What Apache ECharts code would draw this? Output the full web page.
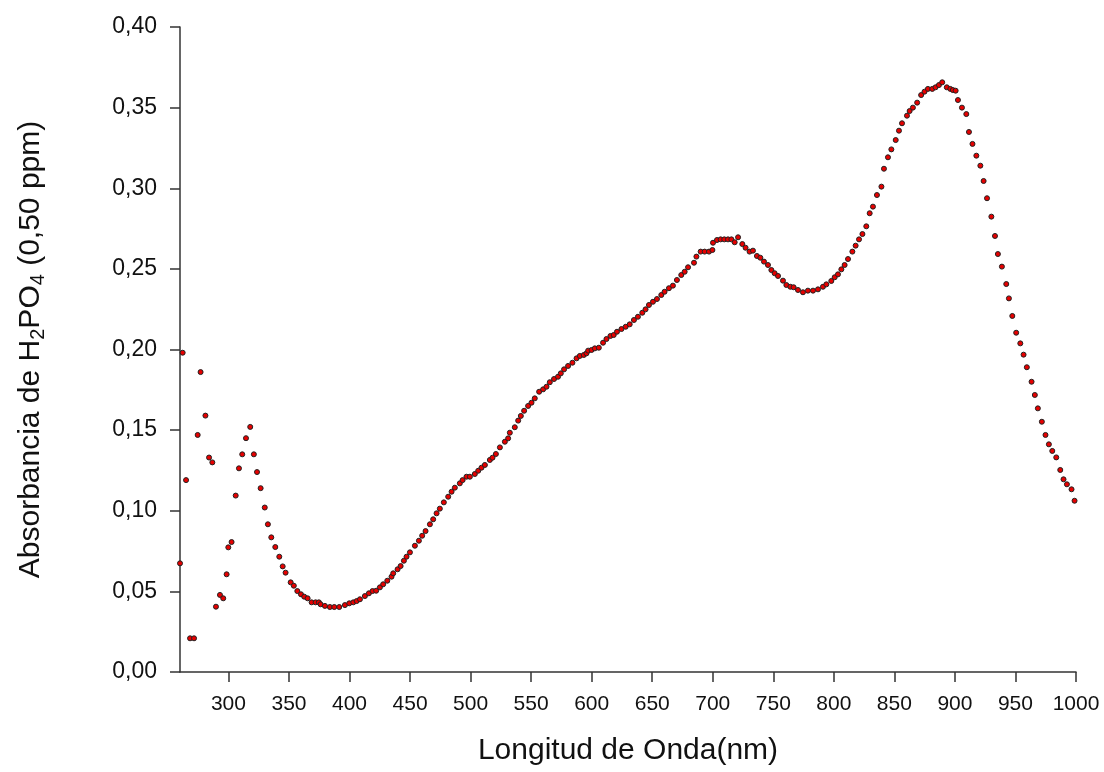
<!DOCTYPE html>
<html>
<head>
<meta charset="utf-8">
<script src="https://cdn.jsdelivr.net/npm/echarts@6/dist/echarts.min.js"></script>
<style>
html,body{margin:0;padding:0;background:#fff;}
#chart{width:1104px;height:772px;}
</style>
</head>
<body>
<div id="chart"></div>
<script>
var wavelength = [
260,262.2,265,268.3,271.6,274.6,277,281,284,286.7,289.7,293,295.7,298.5,299.9,302.6,306,308.7,311.4,314.5,
318,321,323.6,326.6,330,332.6,335.4,338.7,342,344.8,347.2,351.4,354,356.9,359.9,362.6,365.4,368.7,372,374.7,
376.1,379.7,383.8,387.4,391.5,396.2,399.8,403.1,405.9,408.6,412.7,416,419,422,425.1,427.8,431.2,434.7,436.1,439.7,
442.2,444.9,447.1,449.9,454,457.3,460,462.8,466.4,469.1,471.9,474.6,477.9,481.5,484.3,487,491.1,493.4,496.6,499.4,
503.5,506.3,509,511.8,515.9,518.1,520.9,524.2,528.3,531,532.4,536.5,539.3,541.5,544.2,547.5,550.3,553,556.6,559.9,
562.7,565.4,568.9,572.2,574.5,577.2,580.5,584.1,587.5,590.2,593.5,595.7,597.1,599.9,602.6,605.9,609.4,612.2,615.5,618.2,
620.9,624.6,628.1,631.4,634.9,638.2,641.8,644.5,647.3,650.6,653.9,657.5,660.2,663.8,667.1,670.4,674,676.8,679.6,684.5,
686.5,690,693.3,696.9,699.7,700.2,703.5,706.5,709.5,712.6,715.4,718.1,720.9,724.4,727.1,730.4,733.2,736.5,739.3,742.3,
745.6,748.4,751.1,753.9,758,760.8,764.1,766.8,770.4,774.5,778.6,782.8,786.9,791,793.8,797.9,800.7,803.4,806.2,808.9,
811.7,815.3,818,820.8,823.6,826.8,829.6,832.3,835.6,839.3,841.4,844.7,847.5,851.1,853.8,856.3,860.4,862.6,865.3,868.8,
872.1,874.9,877.7,881.3,884,886.8,889.5,893.3,896.2,898.3,900.6,902.5,905.8,909.4,911.6,914.5,917.7,921,923.7,926.5,
930.1,933.1,935.5,938.8,942.4,944.6,947.4,950.6,954,956.7,959.4,963.3,966,968.5,971.8,974.8,977.6,980.4,983.7,987,
989.7,992.5,996.3,998.8
];
var absorbance = [
0.0674,0.198,0.119,0.0209,0.0209,0.147,0.186,0.159,0.133,0.130,0.0405,0.0478,0.0457,0.0606,0.0773,0.0806,0.1094,0.1263,0.135,0.145,
0.152,0.135,0.124,0.114,0.102,0.0916,0.0835,0.0775,0.0715,0.0655,0.0616,0.0556,0.0535,0.0502,0.0482,0.0467,0.0457,0.0432,0.0432,0.0432,
0.042,0.041,0.0403,0.0403,0.0403,0.0415,0.0426,0.0432,0.044,0.0451,0.0471,0.0488,0.0502,0.0504,0.0525,0.0544,0.0566,0.0591,0.0612,0.0637,
0.0657,0.069,0.0715,0.0742,0.0783,0.0814,0.0845,0.0874,0.0916,0.0947,0.0984,0.1013,0.1052,0.1087,0.1118,0.1143,0.117,0.119,0.1211,0.1211,
0.1228,0.1248,0.1267,0.1284,0.1315,0.1329,0.1352,0.1393,0.1428,0.1449,0.1484,0.1518,0.1559,0.1588,0.162,0.165,0.167,0.1697,0.1738,0.1753,
0.1769,0.1797,0.1817,0.1831,0.1852,0.1877,0.1898,0.1918,0.1945,0.196,0.1966,0.1976,0.1993,0.1997,0.2007,0.2011,0.2042,0.2065,0.2084,0.209,
0.211,0.2127,0.2141,0.2156,0.2183,0.2203,0.2228,0.2249,0.2276,0.2296,0.2313,0.2338,0.2358,0.238,0.2396,0.2431,0.2462,0.2482,0.251,0.2538,
0.2576,0.2607,0.2607,0.2607,0.2617,0.2662,0.2679,0.2683,0.2683,0.2683,0.2683,0.2665,0.2696,0.2654,0.2631,0.2607,0.2613,0.258,0.2569,0.2545,
0.2524,0.2493,0.2473,0.2456,0.2427,0.240,0.2389,0.2386,0.2369,0.2355,0.2365,0.2365,0.2373,0.2389,0.2404,0.2425,0.2448,0.2466,0.2497,0.2524,
0.2561,0.2607,0.2644,0.2683,0.2716,0.2764,0.2845,0.2886,0.2958,0.301,0.3121,0.3192,0.3241,0.3299,0.3357,0.3403,0.345,0.3479,0.35,0.3531,
0.3578,0.3599,0.3616,0.3616,0.3626,0.364,0.3657,0.3626,0.3616,0.3609,0.3605,0.3547,0.35,0.346,0.3349,0.3275,0.3202,0.314,0.3045,0.2938,
0.2824,0.2704,0.2592,0.2514,0.2406,0.2317,0.2208,0.2104,0.2038,0.1968,0.189,0.18,0.1718,0.1635,0.1552,0.147,0.1412,0.1371,0.1331,0.1253,
0.1195,0.1164,0.1133,0.1062
];
var xTickLabels = [300,350,400,450,500,550,600,650,700,750,800,850,900,950,1000];
var yTickLabels = [0,0.05,0.10,0.15,0.20,0.25,0.30,0.35,0.40];
var xTitle = 'Longitud de Onda(nm)';
var yTitle = '{n|Absorbancia de H}{s|2}{n|PO}{s|4}{n| (0,50 ppm)}';

var points = wavelength.map(function (w, i) { return [w, absorbance[i]]; });
var font = "'Liberation Sans', Arial, sans-serif";
var axisColor = '#333';

var chart = echarts.init(document.getElementById('chart'), null, {renderer: 'canvas'});
chart.setOption({
  animation: false,
  backgroundColor: '#fff',
  grid: {left: 180, right: 28, top: 27, bottom: 100, containLabel: false},
  xAxis: {
    type: 'value',
    min: 260,
    max: 1000,
    interval: 10,
    name: xTitle,
    nameLocation: 'middle',
    nameGap: 64,
    nameTextStyle: {fontFamily: font, fontSize: 30, color: '#111'},
    axisLine: {show: true, onZero: false, lineStyle: {color: axisColor, width: 1.5}},
    axisTick: {show: true, inside: false, length: 10, customValues: xTickLabels, lineStyle: {color: axisColor, width: 1.5}},
    axisLabel: {
      show: true, customValues: xTickLabels, margin: 22, fontFamily: font, fontSize: 21, color: '#111',
      formatter: function (v) { return String(v); }
    },
    splitLine: {show: false}
  },
  yAxis: {
    type: 'value',
    min: 0,
    max: 0.4,
    interval: 0.05,
    name: yTitle,
    nameLocation: 'middle',
    nameGap: 132,
    nameRotate: 90,
    nameTextStyle: {
      fontFamily: font, fontSize: 30, color: '#111',
      rich: {
        n: {fontFamily: font, fontSize: 30, color: '#111', lineHeight: 35, verticalAlign: 'middle'},
        s: {fontFamily: font, fontSize: 20, color: '#111', lineHeight: 35, verticalAlign: 'bottom'}
      }
    },
    axisLine: {show: true, onZero: false, lineStyle: {color: axisColor, width: 1.5}},
    axisTick: {show: true, inside: false, length: 10, lineStyle: {color: axisColor, width: 1.5}},
    axisLabel: {
      show: true, margin: 23, fontFamily: font, fontSize: 23, color: '#111',
      formatter: function (v) { return v.toFixed(2).replace('.', ','); }
    },
    splitLine: {show: false}
  },
  series: [{
    type: 'scatter',
    data: points,
    symbol: 'circle',
    symbolSize: 5,
    itemStyle: {color: '#e60000', borderColor: '#222', borderWidth: 1, opacity: 1},
    emphasis: {disabled: true}
  }]
});
</script>
</body>
</html>
